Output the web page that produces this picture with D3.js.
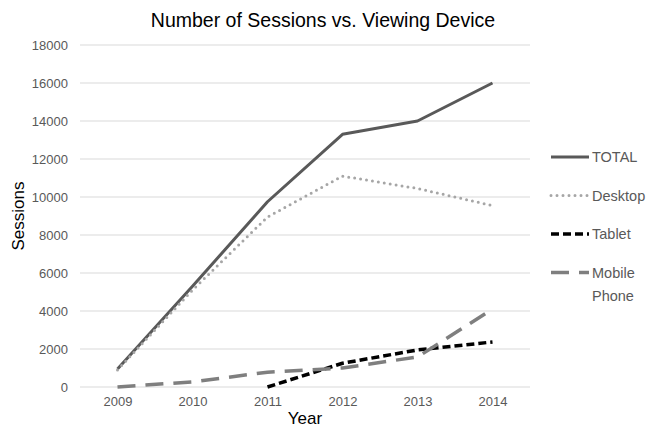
<!DOCTYPE html>
<html>
<head>
<meta charset="utf-8">
<script src="https://cdn.jsdelivr.net/npm/d3@7"></script>
<style>
  body { margin: 0; background: #fff; }
  text { font-family: "Liberation Sans", Arial, sans-serif; }
</style>
</head>
<body>
<svg id="chart" width="646" height="430"></svg>
<script>
const years = ['2009', '2010', '2011', '2012', '2013', '2014'];
const totalValues = [950, 5300, 9750, 13300, 14000, 16000];
const desktopValues = [900, 5100, 8950, 11100, 10450, 9550];
const tabletValues = [null, null, 0, 1250, 1950, 2370];
const mobileValues = [0, 270, 780, 1000, 1580, 4100];
const yTicks = [0, 2000, 4000, 6000, 8000, 10000, 12000, 14000, 16000, 18000];

const series = [
    { name: ['TOTAL'], values: totalValues, color: '#595959', width: 3, dash: null, cap: 'butt' },
    { name: ['Desktop'], values: desktopValues, color: '#a6a6a6', width: 3, dash: '0,6', cap: 'round' },
    { name: ['Tablet'], values: tabletValues, color: '#000000', width: 3.5, dash: '8,4', cap: 'butt' },
    { name: ['Mobile', 'Phone'], values: mobileValues, color: '#7f7f7f', width: 3.5, dash: '18,10', cap: 'butt' }
];

const margin = { top: 45, right: 116, bottom: 43, left: 80 };
const width = 646 - margin.left - margin.right;
const height = 430 - margin.top - margin.bottom;

const svg = d3.select('#chart');
const g = svg.append('g')
    .attr('transform', `translate(${margin.left},${margin.top})`);

const x = d3.scalePoint()
    .domain(years)
    .range([0, width])
    .padding(0.5);

const y = d3.scaleLinear()
    .domain([0, 18000])
    .range([height, 0]);

// gridlines
g.selectAll('.grid')
    .data(yTicks)
    .enter().append('line')
    .attr('x1', 0)
    .attr('x2', width)
    .attr('y1', d => y(d))
    .attr('y2', d => y(d))
    .attr('stroke', '#d9d9d9')
    .attr('stroke-width', 1);

const yAxis = g.append('g')
    .call(d3.axisLeft(y).tickValues(yTicks).tickSize(0).tickPadding(12).tickFormat(d3.format('d')));
yAxis.select('.domain').remove();
yAxis.selectAll('text').attr('fill', '#595959').style('font-size', '13px');

const xAxis = g.append('g')
    .attr('transform', `translate(0,${height})`)
    .call(d3.axisBottom(x).tickSize(0).tickPadding(10));
xAxis.select('.domain').remove();
xAxis.selectAll('text').attr('fill', '#595959').style('font-size', '13px');

const line = d3.line()
    .defined(d => d[1] != null)
    .x(d => x(d[0]))
    .y(d => y(d[1]));

series.forEach(s => {
    g.append('path')
        .datum(years.map((yr, i) => [yr, s.values[i]]))
        .attr('fill', 'none')
        .attr('stroke', s.color)
        .attr('stroke-width', s.width)
        .attr('stroke-dasharray', s.dash)
        .attr('stroke-linecap', s.cap)
        .attr('stroke-linejoin', 'round')
        .attr('d', line);
});

// legend
const legend = svg.append('g').attr('transform', 'translate(551,157)');
series.forEach((s, i) => {
    const row = legend.append('g').attr('transform', `translate(0,${i * 38.5})`);
    row.append('line')
        .attr('x1', 0).attr('x2', 38)
        .attr('stroke', s.color)
        .attr('stroke-width', s.width)
        .attr('stroke-dasharray', s.dash)
        .attr('stroke-linecap', s.cap);
    s.name.forEach((t, j) => {
        row.append('text')
            .attr('x', 41)
            .attr('y', j * 23)
            .attr('dy', '0.35em')
            .attr('fill', '#595959')
            .style('font-size', '14.5px')
            .text(t);
    });
});

svg.append('text')
    .attr('x', 323)
    .attr('y', 27)
    .attr('text-anchor', 'middle')
    .attr('fill', '#000')
    .style('font-size', '19.5px')
    .text('Number of Sessions vs. Viewing Device');

svg.append('text')
    .attr('transform', `translate(24,${margin.top + height / 2}) rotate(-90)`)
    .attr('text-anchor', 'middle')
    .attr('fill', '#000')
    .style('font-size', '17px')
    .text('Sessions');

svg.append('text')
    .attr('x', margin.left + width / 2)
    .attr('y', 424)
    .attr('text-anchor', 'middle')
    .attr('fill', '#000')
    .style('font-size', '17px')
    .text('Year');
</script>
</body>
</html>
